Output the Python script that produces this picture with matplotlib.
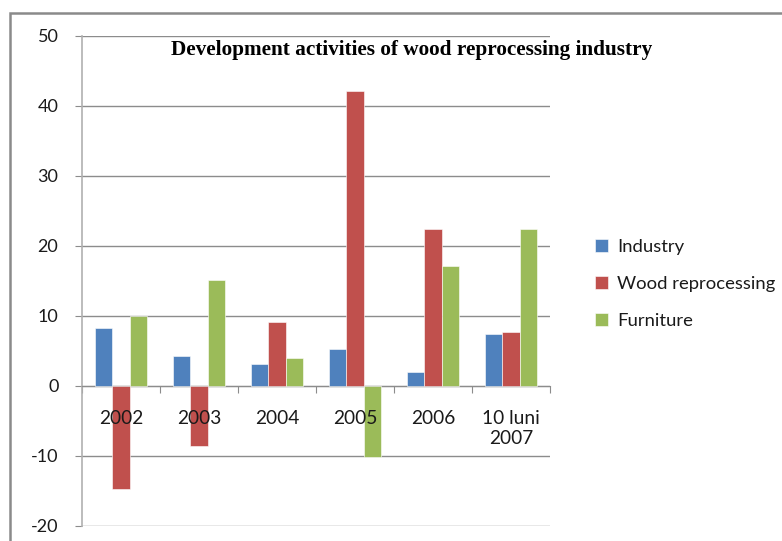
import matplotlib
matplotlib.use("Agg")
import matplotlib.pyplot as plt
import numpy as np
from matplotlib.patches import Rectangle

# data (annual change, %)
years = ["2002", "2003", "2004", "2005", "2006", "10 luni\n2007"]
industry = [8.3, 4.3, 3.1, 5.3, 2.0, 7.4]
wood = [-14.7, -8.6, 9.1, 42.1, 22.5, 7.7]
furniture = [10.0, 15.1, 4.0, -10.2, 17.1, 22.5]

colors = {"Industry": "#4F81BD", "Wood reprocessing": "#C0504D", "Furniture": "#9BBB59"}
grid_c = "#8c8c8c"
text_c = "#1a1a1a"
sans = ["Lato", "DejaVu Sans"]
plt.rcParams["axes.unicode_minus"] = False

fig = plt.figure(figsize=(7.82, 5.41), dpi=100)
ax = fig.add_axes([82 / 782, 1 - 526 / 541, 468 / 782, 490 / 541])

x = np.arange(len(years))
w = 0.225
series = [("Industry", industry), ("Wood reprocessing", wood), ("Furniture", furniture)]
for k, (name, vals) in enumerate(series):
    ax.bar(x + (k - 1) * w, vals, width=w, color=colors[name], label=name,
           edgecolor="white", linewidth=0.4, zorder=3)

ax.set_xlim(-0.5, len(years) - 0.5)
ax.set_ylim(-20, 50)
ax.set_yticks(np.arange(-20, 51, 10))
ax.yaxis.grid(True, color=grid_c, linewidth=1.0, zorder=0)

# category axis sits on zero, ticks between categories
ax.spines["bottom"].set_position(("data", 0))
ax.spines["bottom"].set_color(grid_c)
ax.spines["left"].set_color("#b0b0b0")
ax.spines["left"].set_linewidth(1.2)
ax.spines["top"].set_visible(False)
ax.spines["right"].set_visible(False)
ax.set_xticks(np.arange(-0.5, len(years), 1.0))
ax.set_xticklabels([])
ax.tick_params(axis="x", direction="out", length=5, color=grid_c)
ax.tick_params(axis="y", direction="out", length=5, color=grid_c, labelsize=13,
               labelcolor=text_c, pad=12)
for lab in ax.get_yticklabels():
    lab.set_family(sans)

for i, yr in enumerate(years):
    ax.text(i, -3.4, yr, ha="center", va="top", fontsize=13.8, color=text_c,
            family=sans, linespacing=1.25, zorder=5)

ax.set_title("Development activities of wood reprocessing industry",
             family=["Liberation Serif"], fontweight="bold", fontsize=15.3,
             color="black", y=0.975, x=0.705, va="top")

fig.legend(loc="upper left", bbox_to_anchor=(578 / 782, 1 - 222 / 541), frameon=False,
           prop={"family": sans, "size": 13.3}, handlelength=0.7, handleheight=0.7,
           handletextpad=0.5, labelspacing=1.15, labelcolor=text_c)

# outer chart border
fig.patches.append(Rectangle((10 / 782, -0.2), 1.5, 1.2 - 13 / 541,
                             transform=fig.transFigure, fill=False,
                             edgecolor="#8a8a8a", linewidth=1.8))

fig.savefig("out.png", dpi=100)
